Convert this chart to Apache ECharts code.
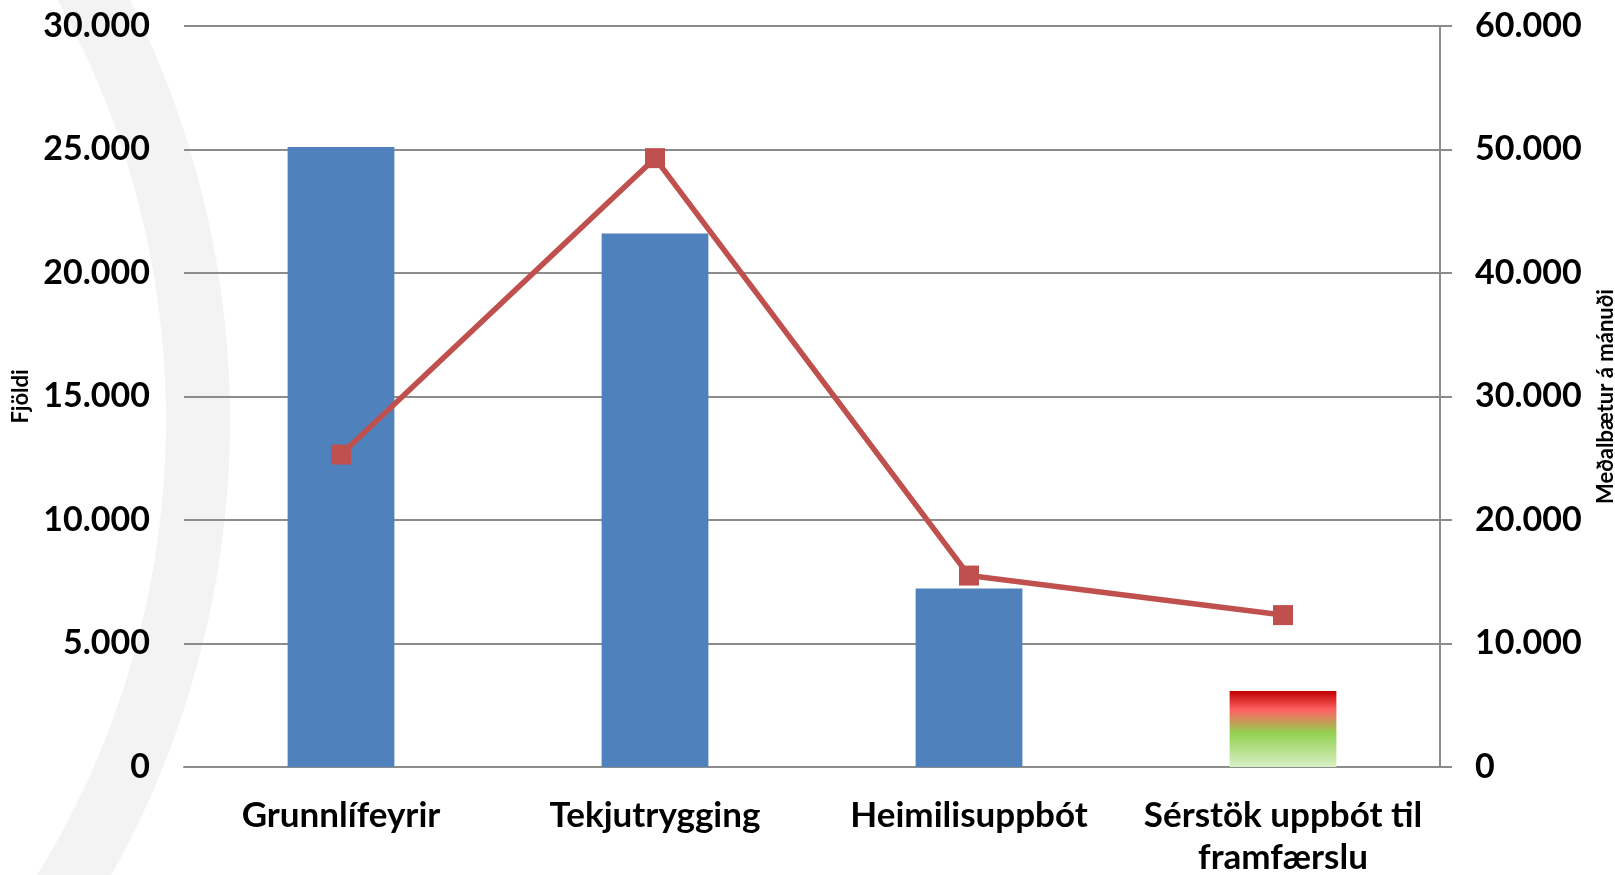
<!DOCTYPE html>
<html>
<head>
<meta charset="utf-8">
<script src="https://cdn.jsdelivr.net/npm/echarts@6/dist/echarts.min.js"></script>
<style>
  html, body { margin: 0; padding: 0; background: #fff; }
  #chart { width: 1615px; height: 875px; }
</style>
</head>
<body>
<div id="chart"></div>
<script>
// flokkar og gildi
var categories = ['Grunnlífeyrir', 'Tekjutrygging', 'Heimilisuppbót', 'Sérstök uppbót til\nframfærslu'];
var fjoldi = [25100, 21600, 7230, 3080];          // vinstri ás, súlur
var medalbaetur = [25300, 49300, 15500, 12300];   // hægri ás, lína

var font = 'Lato';
function fmt(v) {   // 30000 -> 30.000
    return String(v).replace(/\B(?=(\d{3})+(?!\d))/g, '.');
}

var myChart = echarts.init(document.getElementById('chart'));

// síðasta súlan er með litastiga
var barData = fjoldi.map(function (v, i) {
    if (i !== fjoldi.length - 1) return v;
    return {
        value: v,
        itemStyle: {
            color: new echarts.graphic.LinearGradient(0, 0, 0, 1, [
                {offset: 0, color: '#c00000'},
                {offset: 0.25, color: '#ff6262'},
                {offset: 0.55, color: '#92d050'},
                {offset: 1, color: '#d8efc4'}
            ])
        }
    };
});

var option = {
    backgroundColor: '#fff',
    animation: false,
    // daufur bakgrunnsbogi (vatnsmerki)
    graphic: [{
        type: 'ring', z: -10, silent: true,
        shape: {cx: -702, cy: 420, r: 932, r0: 868},
        style: {fill: '#f3f3f3'}
    }],
    grid: {left: 184, right: 175, top: 26, bottom: 108, outerBoundsMode: 'none', containLabel: false},
    xAxis: {
        type: 'category',
        data: categories,
        axisLine: {lineStyle: {color: '#8c8c8c', width: 2}},
        axisTick: {show: false},
        axisLabel: {
            color: '#000', fontFamily: font, fontWeight: 'bold', fontSize: 35,
            lineHeight: 42, margin: 28, interval: 0
        }
    },
    yAxis: [
        {
            type: 'value', min: 0, max: 30000, interval: 5000,
            name: 'Fjöldi', nameLocation: 'middle', nameGap: 152, nameRotate: 90,
            nameTextStyle: {color: '#000', fontFamily: font, fontWeight: 'bold', fontSize: 22},
            axisLine: {show: false},
            axisTick: {show: false},
            axisLabel: {
                color: '#000', fontFamily: font, fontWeight: 'bold', fontSize: 34,
                margin: 34, formatter: fmt
            },
            splitLine: {lineStyle: {color: '#8c8c8c', width: 2}}
        },
        {
            type: 'value', min: 0, max: 60000, interval: 10000,
            name: 'Meðalbætur á mánuði', nameLocation: 'middle', nameGap: 155, nameRotate: 90,
            nameTextStyle: {color: '#000', fontFamily: font, fontWeight: 'bold', fontSize: 22},
            axisLine: {show: true, lineStyle: {color: '#8c8c8c', width: 2}},
            axisTick: {show: true, inside: false, length: 12, lineStyle: {color: '#8c8c8c', width: 2}},
            axisLabel: {
                color: '#000', fontFamily: font, fontWeight: 'bold', fontSize: 34,
                margin: 35, formatter: fmt
            },
            splitLine: {show: false}
        }
    ],
    series: [
        {
            name: 'Fjöldi',
            type: 'bar',
            yAxisIndex: 0,
            barWidth: '34%',
            itemStyle: {color: '#4f81bd'},
            data: barData
        },
        {
            name: 'Meðalbætur á mánuði',
            type: 'line',
            yAxisIndex: 1,
            symbol: 'rect',
            symbolSize: 20,
            lineStyle: {color: '#c0504d', width: 5.5},
            itemStyle: {color: '#c0504d'},
            data: medalbaetur
        }
    ]
};
myChart.setOption(option, true);
</script>
</body>
</html>
